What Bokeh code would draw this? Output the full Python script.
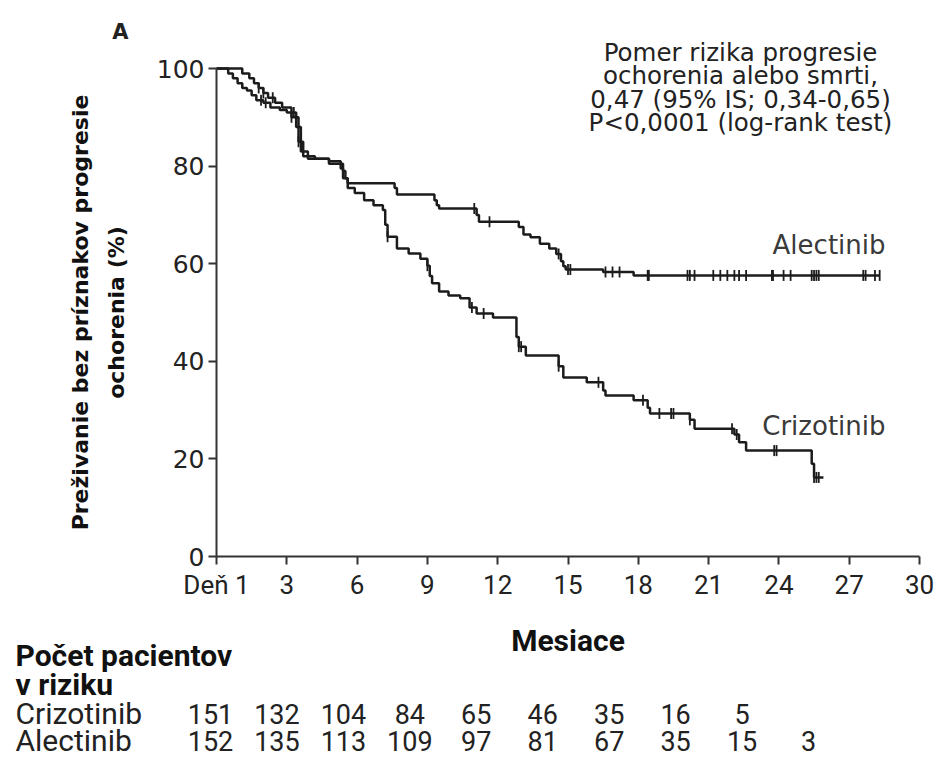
import numpy as np
from bokeh.plotting import figure
from bokeh.models import Range1d, FixedTicker
from bokeh.embed import file_html
from bokeh.resources import INLINE
from bokeh.core.properties import value

# ---- data ----
ale_t = [0, 1.1, 1.4, 1.6, 1.8, 2.0, 2.2, 2.5, 2.8, 3.2, 3.4, 3.5, 3.6, 3.7, 3.9, 4.8,
         5.4, 5.5, 5.6, 7.6, 7.7, 9.3, 9.4, 9.5, 11.1, 11.2, 12.9, 13.1, 13.4, 13.8,
         14.2, 14.5, 14.7, 14.8, 14.9, 16.5, 17.8, 28.3]
ale_s = [100, 99, 98, 97, 96, 95, 94, 93, 92, 91, 90, 88, 85, 83, 81.5, 80.5,
         79, 77.5, 76.5, 75.5, 74.2, 73, 72, 71.3, 70, 68.6, 67.5, 66, 65.4, 64.1,
         63.1, 62, 60.5, 59.5, 58.8, 58.3, 57.6, 57.6]
ale_cens = [1.8, 2.0, 2.4, 3.3, 3.6, 11.0, 11.65, 14.6, 15.0, 15.1, 16.6, 16.9, 17.2,
            18.4, 18.45, 20.1, 20.2, 20.4, 21.2, 21.5, 21.8, 22.1, 22.3, 22.6, 23.7,
            23.75, 24.2, 24.5, 25.4, 25.5, 25.6, 25.7, 27.6, 27.7, 28.1, 28.3]

cri_t = [0, 0.5, 0.7, 0.9, 1.1, 1.3, 1.5, 1.7, 2.0, 2.3, 2.7, 3.0, 3.2, 3.4, 3.5, 3.6,
         3.7, 4.2, 4.8, 5.3, 5.4, 5.6, 5.9, 6.3, 6.7, 7.1, 7.2, 7.3, 7.7, 8.2, 8.7,
         9.0, 9.1, 9.2, 9.5, 9.9, 10.4, 10.8, 11.1, 11.8, 12.8, 12.9, 13.2, 14.6,
         14.8, 15.8, 16.5, 16.6, 17.8, 18.4, 18.5, 20.2, 20.4, 22.1, 22.3, 22.6,
         25.4, 25.5, 25.9]
cri_s = [100, 99, 98, 97, 96, 95.5, 94.5, 93.5, 93, 92, 91.5, 91, 90, 88, 85, 83,
         82, 81.5, 81, 79.5, 77.5, 75.5, 74.5, 73, 72, 71, 68, 65.5, 63.1, 62.1, 61,
         59.6, 57.5, 56, 54.3, 53.5, 52.9, 51, 49.8, 49, 45, 43, 41.2, 39,
         36.7, 35.7, 34, 33, 32, 30.5, 29.3, 28, 26.2, 25, 23.4, 21.7,
         19, 16.2, 16.2]
cri_cens = [1.9, 2.1, 3.2, 3.5, 7.3, 9.0, 10.9, 11.4, 12.9, 13.0, 14.6, 16.3, 18.2,
            18.9, 19.4, 19.5, 20.2, 22.0, 22.2, 23.8, 23.9, 25.5, 25.6, 25.7]

x_ticks = [0, 3, 6, 9, 12, 15, 18, 21, 24, 27, 30]
x_tick_labels = {0: "Deň 1"}
y_ticks = [0, 20, 40, 60, 80, 100]

risk_months = [0, 3, 6, 9, 12, 15, 18, 21, 24, 27]
risk_cri = [151, 132, 104, 84, 65, 46, 35, 16, 5]
risk_ale = [152, 135, 113, 109, 97, 81, 67, 35, 15, 3]

note_lines = ["Pomer rizika progresie", "ochorenia alebo smrti,",
              "0,47 (95% IS; 0,34-0,65)", "P<0,0001 (log-rank test)"]

WIDE = "DejaVu Sans"
COND = "Roboto"
INK = "#1c1c1c"

# ---- canvas geometry: month 0 at x=216 px, 30 at 919 px; 0 % at y=556 px, 100 % at 68 px
W, H = 940, 760
X0, XPX = 216.0, (919.0 - 216.0) / 30.0
Y0, YPX = 556.0, (556.0 - 68.0) / 100.0


def dx(px):
    return (px - X0) / XPX


def dy(py):
    return (Y0 - py) / YPX


def surv_at(times, surv, t):
    idx = np.searchsorted(np.asarray(times), t, side="right") - 1
    return float(np.asarray(surv)[idx])


p = figure(width=W, height=H, output_backend="svg", toolbar_location=None,
           x_range=Range1d(dx(0), dx(W)), y_range=Range1d(dy(H), dy(0)),
           min_border=0)
p.outline_line_color = None
p.grid.visible = False

for ax in (p.xaxis, p.yaxis):
    ax.fixed_location = 0
    ax.axis_line_color = "#333333"
    ax.axis_line_width = 2
    ax.major_tick_line_color = "#333333"
    ax.major_tick_line_width = 2
    ax.major_tick_in = 0
    ax.major_tick_out = 8
    ax.minor_tick_line_color = None
    ax.major_label_text_color = "#222222"

p.xaxis.ticker = FixedTicker(ticks=x_ticks)
p.xaxis.major_label_overrides = x_tick_labels
p.xaxis.bounds = (0, 30)
p.xaxis.major_label_text_font = COND
p.xaxis.major_label_text_font_size = "26px"
p.xaxis.major_label_standoff = 5

p.yaxis.ticker = FixedTicker(ticks=y_ticks)
p.yaxis.bounds = (0, 100)
p.yaxis.major_label_text_font = WIDE
p.yaxis.major_label_text_font_size = "25px"
p.yaxis.major_label_standoff = 4
p.yaxis.axis_label = "Preživanie bez príznakov progresie\nochorenia (%)"
p.yaxis.axis_label_text_font = WIDE
p.yaxis.axis_label_text_font_style = "bold"
p.yaxis.axis_label_text_font_size = "22px"
p.yaxis.axis_label_text_line_height = 1.45
p.yaxis.axis_label_text_color = "#111111"
p.yaxis.axis_label_standoff = 25

p.step(ale_t, ale_s, mode="after", line_color=INK, line_width=2.5)
p.step(cri_t, cri_s, mode="after", line_color=INK, line_width=2.5)

p.scatter(ale_cens, [surv_at(ale_t, ale_s, t) for t in ale_cens], marker="dash",
          angle=np.pi / 2, size=11, line_color=INK, line_width=1.8)
p.scatter(cri_cens, [surv_at(cri_t, cri_s, t) for t in cri_cens], marker="dash",
          angle=np.pi / 2, size=11, line_color=INK, line_width=1.8)

# series names
p.text(x=[dx(885), dx(885)], y=[dy(244), dy(425)], text=["Alectinib", "Crizotinib"],
       text_align="right", text_baseline="middle", text_font=value(WIDE),
       text_font_size="26px", text_color="#3a3a3a")

# hazard ratio note
note_y = [dy(52 + 23.4 * i) for i in range(len(note_lines))]
p.text(x=[dx(740)] * len(note_lines), y=note_y, text=note_lines,
       text_align="center", text_baseline="middle", text_font=value(WIDE),
       text_font_size="24.5px", text_color="#222222")

# panel letter
p.text(x=[dx(120)], y=[dy(31)], text=["A"], text_align="center",
       text_baseline="middle", text_font=value(WIDE), text_font_style="bold",
       text_font_size="21px", text_color="#222222")

# x axis title
p.text(x=[15.0], y=[dy(640)], text=["Mesiace"], text_align="center",
       text_baseline="middle", text_font=value(COND), text_font_style="bold",
       text_font_size="30px", text_color="#111111")

# ---- number at risk table ----
ROW_Y = [655, 684, 713, 740]
col_x = [dx(210) + m * (808.0 - 210.0) / 27.0 / XPX for m in risk_months]
p.text(x=[dx(15)] * 2, y=[dy(ROW_Y[0]), dy(ROW_Y[1])],
       text=["Počet pacientov", "v riziku"],
       text_align="left", text_baseline="middle", text_font=value(COND),
       text_font_style="bold", text_font_size="30px", text_color="#111111")
p.text(x=[dx(15)] * 2, y=[dy(ROW_Y[2]), dy(ROW_Y[3])], text=["Crizotinib", "Alectinib"],
       text_align="left", text_baseline="middle", text_font=value(COND),
       text_font_size="30px", text_color="#222222")
p.text(x=col_x[:len(risk_cri)], y=[dy(ROW_Y[2])] * len(risk_cri),
       text=[str(v) for v in risk_cri], text_align="center",
       text_baseline="middle", text_font=value(COND), text_font_size="27px",
       text_color="#222222")
p.text(x=col_x[:len(risk_ale)], y=[dy(ROW_Y[3])] * len(risk_ale),
       text=[str(v) for v in risk_ale], text_align="center",
       text_baseline="middle", text_font=value(COND), text_font_size="27px",
       text_color="#222222")

open("out.html", "w").write(file_html(p, INLINE))
